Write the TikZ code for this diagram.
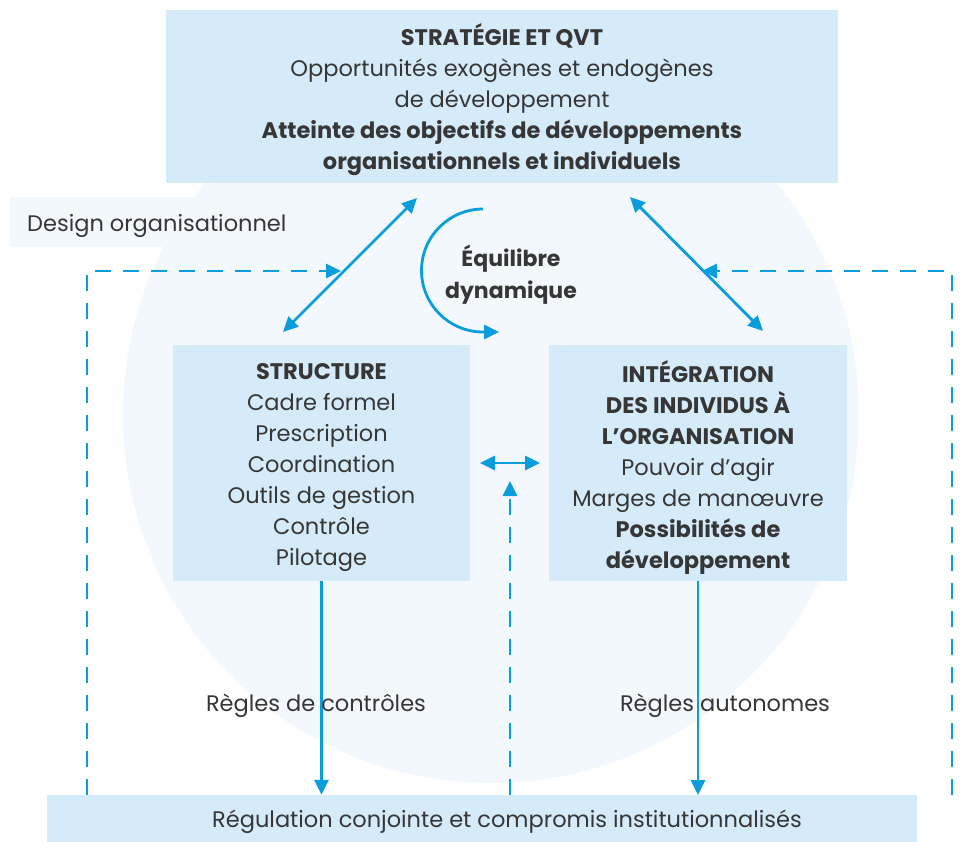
\documentclass[tikz,border=0pt]{standalone}
\usepackage{fontspec}
\setmainfont{Poppins}
\usetikzlibrary{arrows.meta}
\definecolor{lineblue}{HTML}{0A9DDC}
\definecolor{boxblue}{HTML}{D5EBF9}
\definecolor{paleblue}{HTML}{F2F8FD}
\definecolor{ink}{HTML}{363636}
\begin{document}
\begin{tikzpicture}[x=1pt,y=-1pt,
  panel/.style={fill=boxblue, draw=none, inner sep=0},
  label/.style={text=ink, inner sep=0, align=center, font=\fontsize{22.5}{31}\selectfont},
  link/.style={draw=lineblue, line width=2.8pt, -{Triangle[length=15pt,width=14pt]}},
  duplex/.style={draw=lineblue, line width=2.8pt, {Triangle[length=15pt,width=14pt]}-{Triangle[length=15pt,width=14pt]}},
  feedback/.style={link, dash pattern=on 16pt off 12pt}]
% canvas and background shapes
\useasboundingbox (0,0) rectangle (963,842);
\fill[white] (0,0) rectangle (963,842);
\fill[paleblue] (491,415) circle (368);
\fill[paleblue] (10,197) rectangle (300,247);
\node[label, anchor=west] (design) at (27,226) {Design organisationnel};

% main boxes
\node[panel, minimum width=672pt, minimum height=173pt] (strat) at (502,96.5) {};
\node[label] (stratTxt) at ([yshift=-3.5pt]strat.center)
  {\textbf{STRATÉGIE ET QVT}\\Opportunités exogènes et endogènes\\de développement\\
   \textbf{Atteinte des objectifs de développements}\\\textbf{organisationnels et individuels}};
\node[panel, minimum width=297pt, minimum height=236pt] (struct) at (321.5,463) {};
\node[label] (structTxt) at ([yshift=-4.5pt]struct.center)
  {\textbf{STRUCTURE}\\Cadre formel\\Prescription\\Coordination\\Outils de gestion\\Contrôle\\Pilotage};
\node[panel, minimum width=298pt, minimum height=236pt] (integ) at (698,463) {};
\node[label] (integTxt) at ([yshift=-4.5pt]integ.center)
  {\textbf{INTÉGRATION}\\\textbf{DES INDIVIDUS À}\\\textbf{L’ORGANISATION}\\Pouvoir d’agir\\Marges de manœuvre\\
   \textbf{Possibilités de}\\\textbf{développement}};
\node[panel, minimum width=870pt, minimum height=47pt] (reg) at (482,818.5) {};
\node[label] (regTxt) at (507,822) {Régulation conjointe et compromis institutionnalisés};

% diagonal exchanges with the strategy box
\coordinate (dlTop) at (417,198);
\coordinate (dlBot) at (283,332);
\coordinate (drTop) at (630,197);
\coordinate (drBot) at (763,331);
\draw[duplex] (dlBot) -- (dlTop);
\draw[duplex] (drBot) -- (drTop);

% dynamic balance loop
\coordinate (loopStart) at (483,209);
\coordinate (loopEnd) at (499,332);
\draw[link] (loopStart) arc[start angle=270, end angle=90, radius=61.5] -- (loopEnd);
\node[label, font=\fontsize{22}{32}\selectfont\bfseries] (equil) at (511,275) {Équilibre\\dynamique};

% exchange between structure and integration
\coordinate (midL) at (480,463);
\coordinate (midR) at (540,463);
\draw[duplex] (midL) -- (midR);

% descending rules
\draw[link] (struct.south) -- (struct.south |- reg.north);
\draw[link] (integ.south -| 698,0) -- (698,795);
\node[label] (rctl) at (316,706) {Règles de contrôles};
\node[label] (raut) at (725,706) {Règles autonomes};

% feedback loops from the regulation
\coordinate (fbL) at (87,271);
\coordinate (fbLend) at (341,271);
\coordinate (fbR) at (952,271);
\coordinate (fbRend) at (702,271);
\coordinate (fbM) at (510,481);
\draw[feedback] (87,795) -- (fbL) -- (fbLend);
\draw[feedback] (952,795) -- (fbR) -- (fbRend);
\draw[feedback] (510,795) -- (fbM);
\end{tikzpicture}
\end{document}
